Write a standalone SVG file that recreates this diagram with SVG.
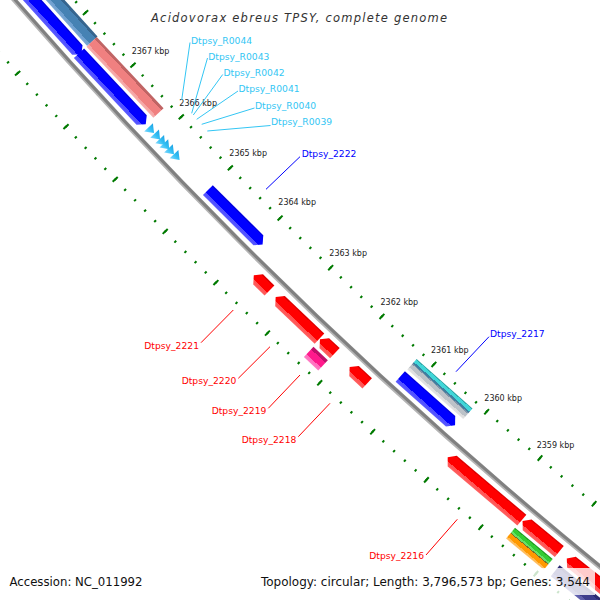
<svg xmlns="http://www.w3.org/2000/svg" width="600" height="600" viewBox="0 0 600 600">
<style>
text { font-family: "DejaVu Sans", "Liberation Sans", sans-serif; }
.kbp { font-size: 8px; fill: #222; }
.lbl { font-size: 9.2px; }
.cy { fill: #33c6f4; }
.bl { fill: #0000ff; }
.rd { fill: #ff0000; }
.lc { stroke: #33c6f4; stroke-width: 1; fill: none; }
.lb { stroke: #0000ff; stroke-width: 1; fill: none; }
.lr { stroke: #ff0000; stroke-width: 1; fill: none; }
.tk { fill: none; stroke: #007a00; }
</style>
<defs>
<linearGradient id="gBlue" gradientUnits="userSpaceOnUse" x1="4768" y1="0" x2="4782" y2="0">
<stop offset="0" stop-color="#0000e0"/><stop offset="0.1" stop-color="#0000e0"/><stop offset="0.1" stop-color="#0000ff"/><stop offset="0.72" stop-color="#0000ff"/><stop offset="0.72" stop-color="#4d4dff"/><stop offset="1" stop-color="#5a5aff"/>
</linearGradient>
<linearGradient id="gTrna" gradientUnits="userSpaceOnUse" x1="4768" y1="0" x2="4782" y2="0">
<stop offset="0" stop-color="#1a9be0"/><stop offset="0.5" stop-color="#33c0f4"/><stop offset="1" stop-color="#8fdcff"/>
</linearGradient>
<linearGradient id="gRed" gradientUnits="userSpaceOnUse" x1="4796" y1="0" x2="4810" y2="0">
<stop offset="0" stop-color="#e00000"/><stop offset="0.1" stop-color="#e00000"/><stop offset="0.1" stop-color="#ff0000"/><stop offset="0.72" stop-color="#ff0000"/><stop offset="0.72" stop-color="#ff5050"/><stop offset="1" stop-color="#ff6060"/>
</linearGradient>
<linearGradient id="gSteel" gradientUnits="userSpaceOnUse" x1="4751" y1="0" x2="4765" y2="0">
<stop offset="0" stop-color="#36658f"/><stop offset="0.2" stop-color="#36658f"/><stop offset="0.2" stop-color="#4682b4"/><stop offset="0.75" stop-color="#4682b4"/><stop offset="0.75" stop-color="#6c9dce"/><stop offset="1" stop-color="#7aa8d6"/>
</linearGradient>
<linearGradient id="gPink" gradientUnits="userSpaceOnUse" x1="4751" y1="0" x2="4765" y2="0">
<stop offset="0" stop-color="#c06464"/><stop offset="0.2" stop-color="#c06464"/><stop offset="0.2" stop-color="#f08080"/><stop offset="0.78" stop-color="#f08080"/><stop offset="0.78" stop-color="#f4a2a2"/><stop offset="1" stop-color="#f6aeae"/>
</linearGradient>
<linearGradient id="gCyan" gradientUnits="userSpaceOnUse" x1="4751" y1="0" x2="4765" y2="0">
<stop offset="0" stop-color="#2aa6a6"/><stop offset="0.07" stop-color="#2aa6a6"/><stop offset="0.07" stop-color="#40d6d8"/><stop offset="0.3" stop-color="#40d6d8"/><stop offset="0.3" stop-color="#3f7fa0"/><stop offset="0.43" stop-color="#3f7fa0"/><stop offset="0.43" stop-color="#8194a8"/><stop offset="0.5" stop-color="#8194a8"/><stop offset="0.5" stop-color="#bcc2c8"/><stop offset="0.8" stop-color="#bcc2c8"/><stop offset="0.8" stop-color="#dcdcdc"/><stop offset="1" stop-color="#e4e4e4"/>
</linearGradient>
<linearGradient id="gMag" gradientUnits="userSpaceOnUse" x1="4813" y1="0" x2="4827" y2="0">
<stop offset="0" stop-color="#c0106a"/><stop offset="0.25" stop-color="#c0106a"/><stop offset="0.25" stop-color="#ff1a8c"/><stop offset="0.72" stop-color="#ff1a8c"/><stop offset="0.72" stop-color="#ff6cbc"/><stop offset="1" stop-color="#ff7cc4"/>
</linearGradient>
<linearGradient id="gGO" gradientUnits="userSpaceOnUse" x1="4813" y1="0" x2="4827" y2="0">
<stop offset="0" stop-color="#22a022"/><stop offset="0.08" stop-color="#22a022"/><stop offset="0.08" stop-color="#33cc33"/><stop offset="0.32" stop-color="#33cc33"/><stop offset="0.32" stop-color="#66e066"/><stop offset="0.46" stop-color="#66e066"/><stop offset="0.46" stop-color="#7a6a2a"/><stop offset="0.52" stop-color="#7a6a2a"/><stop offset="0.52" stop-color="#ff9900"/><stop offset="0.84" stop-color="#ff9900"/><stop offset="0.84" stop-color="#ffb84d"/><stop offset="1" stop-color="#ffc066"/>
</linearGradient>
<linearGradient id="gNavy" gradientUnits="userSpaceOnUse" x1="4813" y1="0" x2="4827" y2="0">
<stop offset="0" stop-color="#2a2a70"/><stop offset="0.2" stop-color="#2a2a70"/><stop offset="0.2" stop-color="#3c3c8c"/><stop offset="0.75" stop-color="#3c3c8c"/><stop offset="0.75" stop-color="#5a5aa8"/><stop offset="1" stop-color="#6464b0"/>
</linearGradient>
</defs>
<rect width="600" height="600" fill="#ffffff"/>

<g id="backbone" transform="translate(3626 -3145)">
<circle r="4789" fill="none" stroke="#b4b4b4" stroke-width="5"/>
<circle r="4788.3" fill="none" stroke="#808080" stroke-width="3"/>
</g>

<g id="ruler" transform="translate(3626 -3145) rotate(120.325)">
<circle class="tk" r="4744" stroke-width="2.6" stroke-dasharray="2 12.15192" stroke-dashoffset="1"/>
<circle class="tk" r="4744" stroke-width="7" stroke-dasharray="2 68.7596" stroke-dashoffset="1"/>
<circle class="tk" r="4835" stroke-width="2.6" stroke-dasharray="2 12.42339" stroke-dashoffset="1"/>
<circle class="tk" r="4835" stroke-width="7" stroke-dasharray="2 70.11695" stroke-dashoffset="1"/>
</g>

<g id="ruler-labels">
<text class="kbp" x="131.7" y="54">2367 kbp</text>
<text class="kbp" x="179.3" y="106">2366 kbp</text>
<text class="kbp" x="229.3" y="156">2365 kbp</text>
<text class="kbp" x="278.3" y="205">2364 kbp</text>
<text class="kbp" x="329.3" y="256">2363 kbp</text>
<text class="kbp" x="380.5" y="304.5">2362 kbp</text>
<text class="kbp" x="431" y="353">2361 kbp</text>
<text class="kbp" x="484.3" y="401">2360 kbp</text>
<text class="kbp" x="536.7" y="447.5">2359 kbp</text>
</g>

<g id="features" transform="translate(3626 -3145)">
<g id="f-steel" transform="rotate(137.96)"><rect x="4751" y="0" width="14" height="111.3" fill="url(#gSteel)"/></g>
<g id="f-pink" transform="rotate(136.784)"><rect x="4751" y="0" width="14" height="97.7" fill="url(#gPink)"/></g>
<g id="f-cyan2217" transform="rotate(131.587)"><rect x="4751" y="0" width="14" height="74.7" fill="url(#gCyan)"/></g>

<g id="f-blue1" transform="rotate(137.93)"><polygon points="4775,0 4782,6 4782,114.2 4768,114.2 4768,6" fill="url(#gBlue)"/></g>
<g id="f-blue2" transform="rotate(136.79)"><polygon points="4775,0 4782,6 4782,97.5 4768,97.5 4768,6" fill="url(#gBlue)"/></g>
<g id="Dtpsy_R0044" transform="rotate(136.645)"><polygon points="4775,0 4781,8 4769,8" fill="url(#gTrna)"/></g>
<g id="Dtpsy_R0043" transform="rotate(136.539)"><polygon points="4775,0 4781,8 4769,8" fill="url(#gTrna)"/></g>
<g id="Dtpsy_R0042" transform="rotate(136.450)"><polygon points="4775,0 4781,8 4769,8" fill="url(#gTrna)"/></g>
<g id="Dtpsy_R0041" transform="rotate(136.378)"><polygon points="4775,0 4781,8 4769,8" fill="url(#gTrna)"/></g>
<g id="Dtpsy_R0040" transform="rotate(136.297)"><polygon points="4775,0 4781,8 4769,8" fill="url(#gTrna)"/></g>
<g id="Dtpsy_R0039" transform="rotate(136.200)"><polygon points="4775,0 4781,8 4769,8" fill="url(#gTrna)"/></g>
<g id="Dtpsy_2222" transform="rotate(134.779)"><polygon points="4775,0 4782,6 4782,77.1 4768,77.1 4768,6" fill="url(#gBlue)"/></g>
<g id="Dtpsy_2217" transform="rotate(131.611)"><polygon points="4775,0 4782,6 4782,73.3 4768,73.3 4768,6" fill="url(#gBlue)"/></g>

<g id="Dtpsy_2221" transform="rotate(134.334)"><polygon points="4796,0 4810,0 4810,15.9 4803,21.9 4796,15.9" fill="url(#gRed)"/></g>
<g id="Dtpsy_2220" transform="rotate(133.506)"><polygon points="4796,0 4810,0 4810,54.4 4803,60.4 4796,54.4" fill="url(#gRed)"/></g>
<g id="Dtpsy_2219" transform="rotate(133.253)"><polygon points="4796,0 4810,0 4810,14.5 4803,20.5 4796,14.5" fill="url(#gRed)"/></g>
<g id="Dtpsy_2218" transform="rotate(132.726)"><polygon points="4796,0 4810,0 4810,17.9 4803,23.9 4796,17.9" fill="url(#gRed)"/></g>
<g id="Dtpsy_2216" transform="rotate(130.263)"><polygon points="4796,0 4810,0 4810,91.2 4803,97.2 4796,91.2" fill="url(#gRed)"/></g>
<g id="f-red-m" transform="rotate(129.68)"><polygon points="4796,0 4810,0 4810,41.7 4803,47.7 4796,41.7" fill="url(#gRed)"/></g>
<g id="f-red-n" transform="rotate(128.7)"><polygon points="4796,0 4810,0 4810,66 4803,72 4796,66" fill="url(#gRed)"/></g>

<g id="f-mag" transform="rotate(133.256)"><rect x="4813" y="0" width="14" height="19.7" fill="url(#gMag)"/></g>
<g id="f-go" transform="rotate(129.683)"><rect x="4813" y="0" width="14" height="49" fill="url(#gGO)"/></g>
<g id="f-navy" transform="rotate(128.8)"><rect x="4813" y="0" width="14" height="64.9" fill="url(#gNavy)"/></g>
</g>

<g id="connectors">
<line class="lc" x1="190" y1="42.5" x2="181.7" y2="100"/>
<line class="lc" x1="207.5" y1="58" x2="191.7" y2="113.3"/>
<line class="lc" x1="222.7" y1="74.5" x2="193.3" y2="115"/>
<line class="lc" x1="238" y1="91" x2="196.7" y2="119.3"/>
<line class="lc" x1="254.5" y1="108" x2="201.7" y2="124.3"/>
<line class="lc" x1="270.5" y1="125.5" x2="207.3" y2="131"/>
<line class="lb" x1="300" y1="156.7" x2="266" y2="189.3"/>
<line class="lb" x1="489" y1="336.7" x2="456" y2="371.7"/>
<line class="lr" x1="201" y1="342.7" x2="233.3" y2="310"/>
<line class="lr" x1="238.3" y1="378.3" x2="270" y2="346.7"/>
<line class="lr" x1="268.3" y1="408.3" x2="300" y2="375"/>
<line class="lr" x1="298.3" y1="436.7" x2="330" y2="403.3"/>
<line class="lr" x1="426" y1="555" x2="457.3" y2="519.3"/>
</g>

<g id="labels">
<text class="lbl cy" x="191" y="43.5">Dtpsy_R0044</text>
<text class="lbl cy" x="208.3" y="60">Dtpsy_R0043</text>
<text class="lbl cy" x="223.5" y="76.2">Dtpsy_R0042</text>
<text class="lbl cy" x="238.5" y="92.4">Dtpsy_R0041</text>
<text class="lbl cy" x="255" y="108.6">Dtpsy_R0040</text>
<text class="lbl cy" x="271" y="124.8">Dtpsy_R0039</text>
<text class="lbl bl" x="301.7" y="156.7">Dtpsy_2222</text>
<text class="lbl bl" x="490" y="336.7">Dtpsy_2217</text>
<text class="lbl rd" x="144.3" y="348.8">Dtpsy_2221</text>
<text class="lbl rd" x="181.7" y="384.3">Dtpsy_2220</text>
<text class="lbl rd" x="211.7" y="413.5">Dtpsy_2219</text>
<text class="lbl rd" x="241.7" y="442.7">Dtpsy_2218</text>
<text class="lbl rd" x="369.3" y="559.3">Dtpsy_2216</text>
</g>

<text id="title" x="151" y="22.3" font-size="11.5" font-style="italic" fill="#333" textLength="296" lengthAdjust="spacing">Acidovorax ebreus TPSY, complete genome</text>

<rect id="legend-box" x="258" y="568" width="337" height="27" fill="#ffffff" fill-opacity="0.8"/>
<text id="accession" x="9.5" y="586" font-size="12" fill="#111" textLength="133" lengthAdjust="spacingAndGlyphs">Accession: NC_011992</text>
<text id="topology" x="261" y="586" font-size="12" fill="#111" textLength="329" lengthAdjust="spacingAndGlyphs">Topology: circular; Length: 3,796,573 bp; Genes: 3,544</text>
</svg>
